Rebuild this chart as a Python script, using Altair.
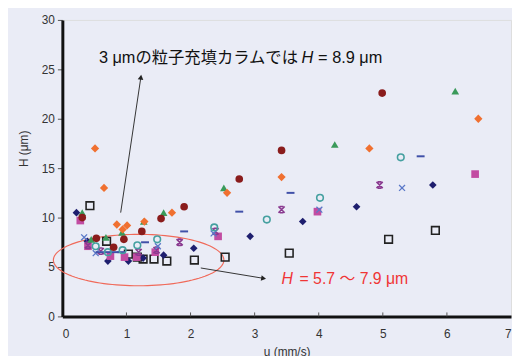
import altair as alt
import pandas as pd
import numpy as np

BG = "#eaecf6"
FONT = "Liberation Sans, Noto Sans CJK JP, sans-serif"

# ---- data (u in mm/s, H in um) ----
orange_x = [0.51, 0.65, 0.85, 0.94, 1.01, 1.28, 1.71, 2.57, 3.42, 4.79, 6.49]
orange_y = [17.0, 13.0, 9.3, 8.8, 9.2, 9.6, 10.5, 12.5, 14.1, 17.0, 20.0]

darkred_x = [0.31, 0.53, 0.80, 0.96, 1.24, 1.54, 1.90, 2.76, 3.42, 4.99]
darkred_y = [10.0, 7.9, 7.0, 7.8, 8.6, 9.9, 11.1, 13.9, 16.8, 22.6]

green_x = [0.31, 0.45, 0.68, 0.93, 1.27, 1.58, 2.52, 4.25, 6.13]
green_y = [10.5, 7.8, 8.0, 8.5, 9.6, 10.5, 13.0, 17.4, 22.8]

teal_x = [0.52, 0.71, 0.94, 1.17, 1.48, 2.37, 3.19, 4.02, 5.28]
teal_y = [7.1, 6.5, 6.7, 7.2, 7.8, 9.0, 9.8, 12.0, 16.1]

dash_x = [0.58, 0.70, 0.82, 0.92, 1.29, 1.90, 2.76, 3.56, 5.59]
dash_y = [6.5, 6.5, 6.5, 6.5, 7.5, 8.6, 10.6, 12.5, 16.2]

lblue_x = [0.34, 0.52, 1.49, 2.36, 4.01, 5.30]
lblue_y = [8.0, 6.4, 7.1, 8.4, 10.8, 13.0]

purple_x = [0.40, 0.60, 1.19, 1.47, 1.83, 2.39, 3.42, 4.95]
purple_y = [7.2, 6.6, 6.5, 6.7, 7.5, 8.6, 10.8, 13.3]

pink_x = [0.28, 0.40, 0.75, 0.97, 1.16, 1.45, 2.43, 3.98, 6.44]
pink_y = [9.7, 7.1, 6.1, 6.0, 6.0, 6.5, 8.1, 10.6, 14.4]

navy_x = [0.22, 0.39, 0.71, 1.03, 1.26, 1.58, 2.05, 2.93, 3.75, 4.59, 5.78]
navy_y = [10.5, 7.6, 5.6, 5.6, 5.9, 6.2, 6.9, 8.1, 9.6, 11.1, 13.3]

opensq_x = [0.43, 0.69, 1.03, 1.17, 1.26, 1.43, 1.63, 2.06, 2.54, 3.54, 5.09, 5.82]
opensq_y = [11.2, 7.6, 6.3, 6.0, 5.8, 5.8, 5.6, 5.7, 6.0, 6.4, 7.8, 8.7]

x_ticks = [0, 1, 2, 3, 4, 5, 6, 7]
y_ticks = [0, 5, 10, 15, 20, 25, 30]

XS = alt.Scale(domain=[0, 7], nice=False, zero=False)
YS = alt.Scale(domain=[0, 30], nice=False, zero=False)

x_axis = alt.Axis(values=x_ticks, format="d", tickSize=0, labelPadding=12,
                  labelBaseline="top", labelFontSize=12, labelColor="#333",
                  domainColor="#111", domainWidth=3, grid=False,
                  title="u (mm/s)", titleFontSize=12, titleFontWeight="normal",
                  titleColor="#333", titleBaseline="top", titleY=31)
y_axis = alt.Axis(values=y_ticks, format="d", tickSize=5, tickColor="#555",
                  labelPadding=3, labelFontSize=12, labelColor="#333",
                  domainColor="#111", domainWidth=3, grid=False,
                  title="H (μm)", titleFontSize=12, titleFontWeight="normal",
                  titleColor="#333", titleX=-32, titleY=130)


def series(xv, yv, **mk):
    df = pd.DataFrame({"x": xv, "y": yv})
    return alt.Chart(df).mark_point(**mk).encode(
        x=alt.X("x:Q", scale=XS, axis=x_axis),
        y=alt.Y("y:Q", scale=YS, axis=y_axis),
    )


XPATH = "M-1,-1L1,1M-1,1L1,-1"
STAR = "M-1,-1L1,1M-1,1L1,-1M-0.6,-1L0.6,-1M-0.6,1L0.6,1"
DASH = "M-1,0L1,0"

layers = [
    series(opensq_x, opensq_y, shape="square", filled=False, color="#222", size=60, strokeWidth=1.6, opacity=1),
    series(navy_x, navy_y, shape="diamond", filled=True, color="#1e1e6e", size=60, opacity=1),
    series(pink_x, pink_y, shape="square", filled=True, color="#c24ca2", size=60, opacity=1),
    series(purple_x, purple_y, shape=STAR, filled=False, color="#8a3a90", size=40, strokeWidth=1.6, opacity=1),
    series(lblue_x, lblue_y, shape=XPATH, filled=False, color="#5a78c8", size=36, strokeWidth=1.3, opacity=1),
    series(dash_x, dash_y, shape=DASH, filled=False, color="#4050a8", size=64, strokeWidth=2, opacity=1),
    series(teal_x, teal_y, shape="circle", filled=False, color="#45a0a0", size=45, strokeWidth=1.6, opacity=1),
    series(green_x, green_y, shape="triangle-up", filled=True, color="#3a9a5a", size=60, opacity=1),
    series(darkred_x, darkred_y, shape="circle", filled=True, color="#8a1c1c", size=60, opacity=1),
    series(orange_x, orange_y, shape="diamond", filled=True, color="#f07030", size=70, opacity=1),
]

# inward x-axis ticks
tick_df = pd.DataFrame({"x": x_ticks[1:-1], "y": [0] * 6, "y2": [0.4] * 6})
ticks = alt.Chart(tick_df).mark_rule(color="#555", strokeWidth=1).encode(
    x=alt.X("x:Q", scale=XS), y=alt.Y("y:Q", scale=YS), y2="y2:Q")

# ellipse annotation
t = np.linspace(0, 2 * np.pi, 121)
ell_df = pd.DataFrame({"x": 1.19 + 1.33 * np.cos(t), "y": 5.7 + 2.6 * np.sin(t), "o": np.arange(121)})
ellipse = alt.Chart(ell_df).mark_line(color="#f06a5a", strokeWidth=1.2, clip=False).encode(
    x=alt.X("x:Q", scale=XS), y=alt.Y("y:Q", scale=YS), order="o:Q")

# arrows
arr_df = pd.DataFrame({"x": [0.91, 2.16], "y": [10.5, 4.9], "x2": [1.225, 3.14], "y2": [24.2, 3.85]})
arrows = alt.Chart(arr_df).mark_rule(color="#333", strokeWidth=1).encode(
    x=alt.X("x:Q", scale=XS), y=alt.Y("y:Q", scale=YS), x2="x2:Q", y2="y2:Q")
head_df = pd.DataFrame({"x": [1.225, 3.14], "y": [24.2, 3.85], "a": [8.5, 99.0]})
heads = alt.Chart(head_df).mark_point(shape="triangle-up", filled=True, color="#222", size=32, opacity=1).encode(
    x=alt.X("x:Q", scale=XS), y=alt.Y("y:Q", scale=YS), angle=alt.Angle("a:Q", scale=None))

# texts
def txt(x, y, s, color="#111", style="normal", size=16):
    df = pd.DataFrame({"x": [x], "y": [y], "t": [s]})
    return alt.Chart(df).mark_text(align="left", baseline="middle", fontSize=size, font=FONT,
                                   fontStyle=style, color=color).encode(
        x=alt.X("x:Q", scale=XS), y=alt.Y("y:Q", scale=YS), text="t:N")

texts = [
    txt(0.57, 26.1, "3 μmの粒子充填カラムでは", size=16.5),
    txt(3.73, 26.1, "H", style="italic", size=16.5),
    txt(3.99, 26.1, " = 8.9 μm", size=16.5),
    txt(3.42, 3.8, "H", color="#f03535", style="italic"),
    txt(3.70, 3.8, "= 5.7 ～ 7.9 μm", color="#f03535"),
]

chart = alt.layer(ticks, ellipse, *layers, arrows, heads, *texts).properties(
    width=454, height=300,
    autosize=alt.AutoSizeParams(type="none"),
    padding={"left": 55, "top": 10, "right": 1, "bottom": 38},
    background=BG,
).configure_view(stroke="#222", strokeWidth=1.5, fill=BG).configure(font=FONT)

chart.save("out.html", embed_options={"renderer": "svg", "actions": False})
